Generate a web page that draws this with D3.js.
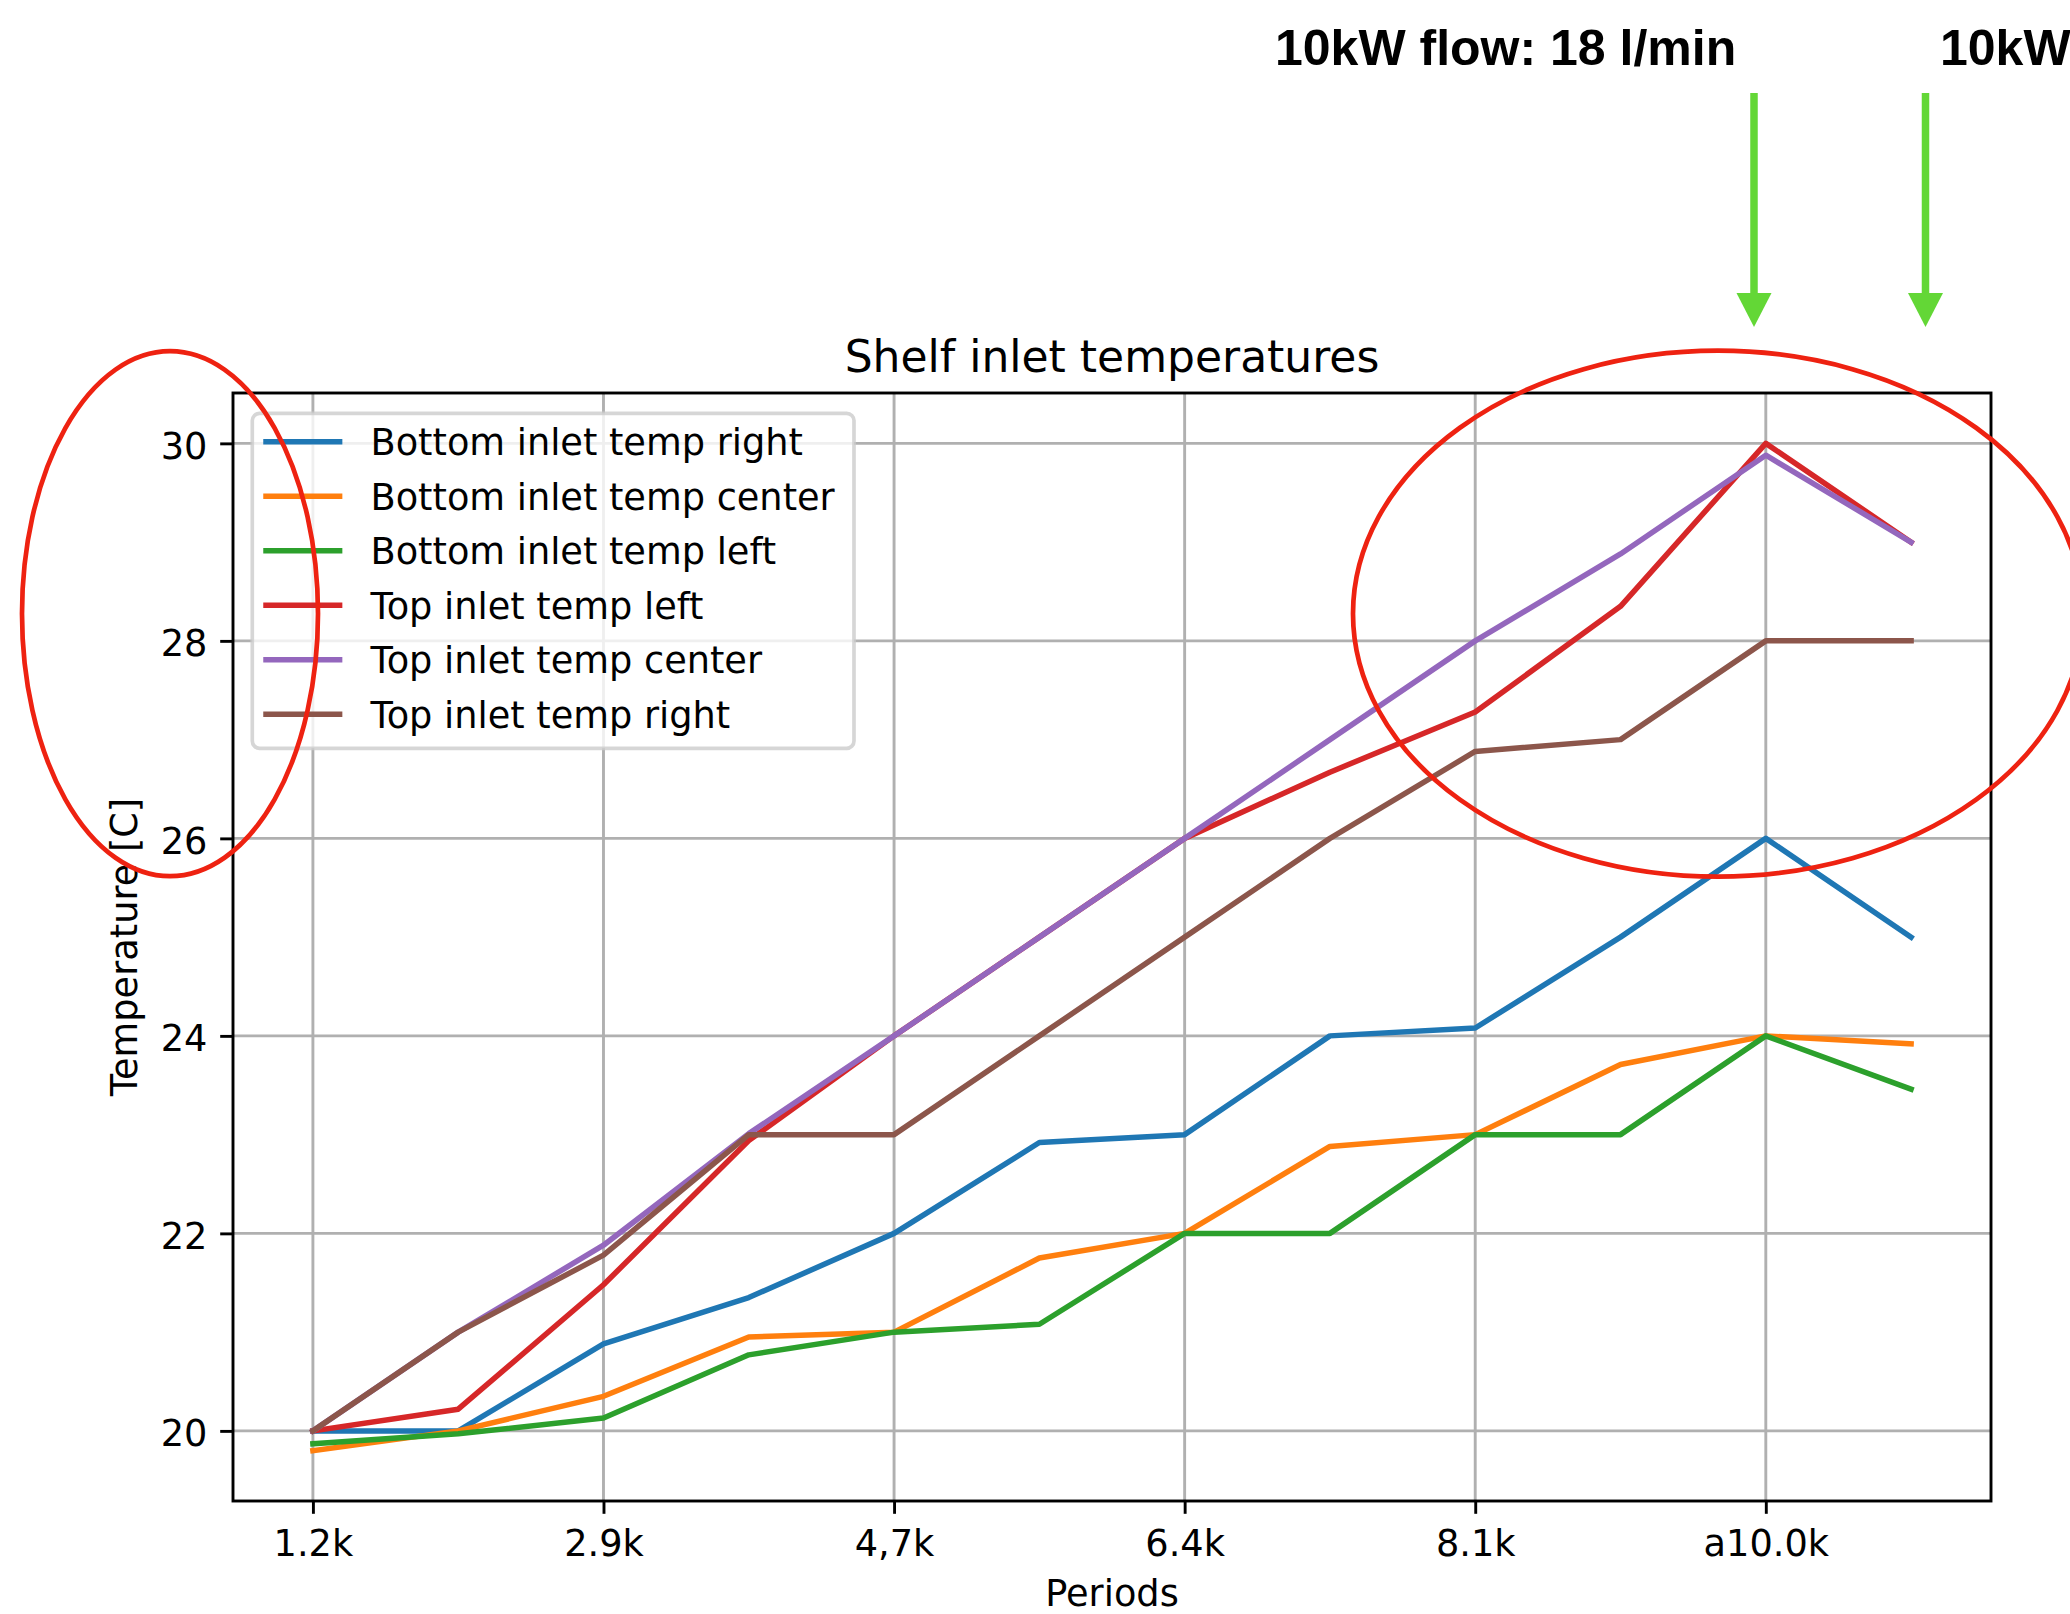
<!DOCTYPE html>
<html>
<head>
<meta charset="utf-8">
<script src="https://cdn.jsdelivr.net/npm/d3@7"></script>
<style>
  html, body { margin: 0; padding: 0; background: #ffffff; }
  svg { display: block; }
  text { font-family: "DejaVu Sans", sans-serif; fill: #000; }
</style>
</head>
<body>
<script>
// Sample positions along the run (one per measurement) and the labelled ticks
const samples = [0, 1, 2, 3, 4, 5, 6, 7, 8, 9, 10, 11];
const tickSamples = [0, 2, 4, 6, 8, 10];
const periodLabels = ["1.2k", "2.9k", "4,7k", "6.4k", "8.1k", "a10.0k"];
const tempTicks = [20, 22, 24, 26, 28, 30];

// Inlet temperatures [C] per sample
const bottomRight  = [20.0, 20.0, 20.88, 21.35, 22.0, 22.92, 23.0, 24.0, 24.08, 25.0, 26.0, 25.0];
const bottomCenter = [19.8, 20.0, 20.35, 20.95, 21.0, 21.75, 22.0, 22.88, 23.0, 23.71, 24.0, 23.92];
const bottomLeft   = [19.87, 19.97, 20.13, 20.77, 21.0, 21.08, 22.0, 22.0, 23.0, 23.0, 24.0, 23.46];
const topLeft      = [20.0, 20.22, 21.48, 22.94, 24.0, 25.0, 26.0, 26.67, 27.28, 28.35, 30.0, 29.0];
const topCenter    = [20.0, 21.0, 21.88, 23.01, 24.0, 25.0, 26.0, 27.0, 28.0, 28.88, 29.88, 29.0];
const topRight     = [20.0, 21.0, 21.78, 23.0, 23.0, 24.0, 25.0, 26.0, 26.88, 27.0, 28.0, 28.0];

const seriesNames = [
  "Bottom inlet temp right", "Bottom inlet temp center", "Bottom inlet temp left",
  "Top inlet temp left", "Top inlet temp center", "Top inlet temp right"
];
const seriesValues = [bottomRight, bottomCenter, bottomLeft, topLeft, topCenter, topRight];
const seriesColors = ["#1f77b4", "#ff7f0e", "#2ca02c", "#d62728", "#9467bd", "#8c564b"];

const W = 2070, H = 1614;
const plot = { left: 233, right: 1991, top: 393, bottom: 1501 };
const fs = 36.7;          // 10pt text
const lw = 5.5;           // 1.5pt data lines
const thin = 2.9;         // 0.8pt spines / grid / ticks

const svg = d3.select("body").append("svg").attr("width", W).attr("height", H);
svg.append("rect").attr("width", W).attr("height", H).attr("fill", "#ffffff");

// Scales with 5% padding around the data, matplotlib style
const xExt = d3.extent(samples);
const xPad = (xExt[1] - xExt[0]) * 0.05;
const x = d3.scaleLinear().domain([xExt[0] - xPad, xExt[1] + xPad]).range([plot.left, plot.right]);
const allVals = seriesValues.flat();
const yExt = d3.extent(allVals);
const yPad = (yExt[1] - yExt[0]) * 0.05;
const y = d3.scaleLinear().domain([yExt[0] - yPad, yExt[1] + yPad]).range([plot.bottom, plot.top]);

// Grid
const grid = svg.append("g").attr("stroke", "#b0b0b0").attr("stroke-width", thin);
grid.selectAll("line.gx").data(tickSamples).join("line")
  .attr("x1", d => x(d)).attr("x2", d => x(d))
  .attr("y1", plot.top).attr("y2", plot.bottom);
grid.selectAll("line.gy").data(tempTicks).join("line")
  .attr("y1", d => y(d)).attr("y2", d => y(d))
  .attr("x1", plot.left).attr("x2", plot.right);

// Data lines
const line = d3.line().x((d, i) => x(samples[i])).y(d => y(d));
svg.append("g").selectAll("path").data(seriesValues).join("path")
  .attr("d", d => line(d))
  .attr("fill", "none")
  .attr("stroke", (d, i) => seriesColors[i])
  .attr("stroke-width", lw)
  .attr("stroke-linejoin", "round")
  .attr("stroke-linecap", "square");

// Axes
const xAxis = d3.axisBottom(x).tickValues(tickSamples)
  .tickFormat((d, i) => periodLabels[i]).tickSize(12.8).tickPadding(12.8);
const yAxis = d3.axisLeft(y).tickValues(tempTicks)
  .tickFormat(d3.format("d")).tickSize(12.8).tickPadding(12.8);

const gx = svg.append("g").attr("transform", `translate(0,${plot.bottom})`).call(xAxis);
const gy = svg.append("g").attr("transform", `translate(${plot.left},0)`).call(yAxis);
[gx, gy].forEach(g => {
  g.select(".domain").remove();
  g.selectAll(".tick line").attr("stroke", "#000").attr("stroke-width", thin);
  g.selectAll(".tick text").attr("font-family", "DejaVu Sans").attr("font-size", fs).attr("fill", "#000");
});
gx.selectAll(".tick text").attr("dy", null).attr("y", 55).attr("dominant-baseline", "alphabetic");
gy.selectAll(".tick text").attr("dy", null).attr("y", 15).attr("dominant-baseline", "alphabetic");

// Frame
svg.append("rect")
  .attr("x", plot.left).attr("y", plot.top)
  .attr("width", plot.right - plot.left).attr("height", plot.bottom - plot.top)
  .attr("fill", "none").attr("stroke", "#000").attr("stroke-width", thin)
  .attr("stroke-linejoin", "miter");

// Titles
svg.append("text").attr("x", (plot.left + plot.right) / 2).attr("y", 371.5)
  .attr("text-anchor", "middle").attr("font-size", 44).text("Shelf inlet temperatures");
svg.append("text").attr("x", (plot.left + plot.right) / 2).attr("y", 1606)
  .attr("text-anchor", "middle").attr("font-size", fs).text("Periods");
svg.append("text")
  .attr("transform", `translate(137,${(plot.top + plot.bottom) / 2}) rotate(-90)`)
  .attr("text-anchor", "middle").attr("font-size", fs).text("Temperature [C]");

// Legend
const leg = svg.append("g");
leg.append("rect")
  .attr("x", 252.3).attr("y", 413.3).attr("width", 601.7).attr("height", 335)
  .attr("rx", 7.3).attr("ry", 7.3)
  .attr("fill", "#ffffff").attr("fill-opacity", 0.8)
  .attr("stroke", "#cccccc").attr("stroke-opacity", 0.8).attr("stroke-width", 3.67);
const rows = leg.selectAll("g.row").data(seriesNames).join("g")
  .attr("transform", (d, i) => `translate(0,${441.7 + i * 54.5})`);
rows.append("line")
  .attr("x1", 266).attr("x2", 339.6).attr("y1", 0).attr("y2", 0)
  .attr("stroke", (d, i) => seriesColors[i]).attr("stroke-width", lw)
  .attr("stroke-linecap", "square");
rows.append("text").attr("x", 370.5).attr("y", 13.3)
  .attr("font-size", fs).text(d => d);

// Highlight ellipses
const ellipses = [
  { cx: 170, cy: 613.7, rx: 148, ry: 262.5 },
  { cx: 1718, cy: 613.7, rx: 365, ry: 263 }
];
svg.append("g").selectAll("ellipse").data(ellipses).join("ellipse")
  .attr("cx", d => d.cx).attr("cy", d => d.cy).attr("rx", d => d.rx).attr("ry", d => d.ry)
  .attr("fill", "none").attr("stroke", "#ee2211").attr("stroke-width", 4.7);

// Flow-rate call-outs
const callouts = [
  { x: 1754, text: "10kW flow: 18 l/min", tx: 1275 },
  { x: 1925.5, text: "10kW", tx: 1940 }
];
const green = "#63d736";
const co = svg.append("g");
co.selectAll("line").data(callouts).join("line")
  .attr("x1", d => d.x).attr("x2", d => d.x).attr("y1", 93).attr("y2", 296)
  .attr("stroke", green).attr("stroke-width", 7.5);
co.selectAll("path").data(callouts).join("path")
  .attr("d", d => `M${d.x - 17.5},293 L${d.x + 17.5},293 L${d.x},327 Z`)
  .attr("fill", green);
co.selectAll("text").data(callouts).join("text")
  .attr("x", d => d.tx).attr("y", 65)
  .attr("font-family", "Liberation Sans, Arial, sans-serif")
  .attr("font-weight", "bold").attr("font-size", 50)
  .style("font-family", "'Liberation Sans', Arial, sans-serif")
  .text(d => d.text);
</script>
</body>
</html>
